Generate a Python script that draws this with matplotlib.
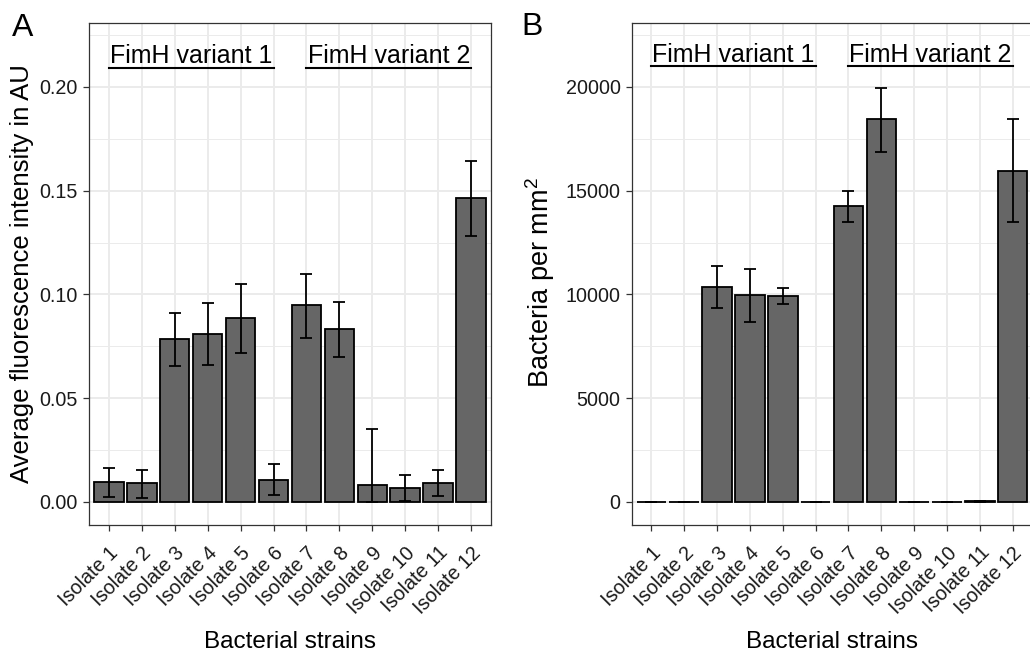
import numpy as np
import matplotlib
matplotlib.use("Agg")
import matplotlib.pyplot as plt

plt.rcParams['font.family'] = ['Liberation Sans', 'DejaVu Sans']
plt.rcParams['mathtext.default'] = 'regular'

isolates = ["Isolate %d" % i for i in range(1, 13)]

# panel A: fluorescence
fluo_mean = [0.0096, 0.0092, 0.0787, 0.0811, 0.0885, 0.0108,
             0.0949, 0.0834, 0.0080, 0.0066, 0.0092, 0.1467]
fluo_hi = [0.0165, 0.0156, 0.0912, 0.0961, 0.1051, 0.0182,
           0.1097, 0.0962, 0.0352, 0.0130, 0.0153, 0.1643]
fluo_lo = [0.0024, 0.0021, 0.0657, 0.0659, 0.0718, 0.0035,
           0.0792, 0.0699, 0.0000, 0.0005, 0.0027, 0.1282]

# panel B: bacteria per mm2
bact_mean = [0, 0, 10375, 9976, 9942, 0,
             14250, 18442, 0, 0, 25, 15966]
bact_hi = [0, 0, 11373, 11213, 10313, 0,
           15002, 19951, 0, 0, 50, 18442]
bact_lo = [0, 0, 9334, 8674, 9542, 0,
           13493, 16867, 0, 0, 0, 13493]

groups = ["FimH variant 1", "FimH variant 2"]
group_span = [(1, 6), (7, 12)]

GRID = "#EBEBEB"
DARK = "#333333"


def draw_panel(ax, mean, lo, hi, ylim, yticks, yticklabels, minor, line_y, text_y,
               ylabel, ylab_x, ylab_y, ylab_size):
    x = np.arange(1, len(mean) + 1)
    mean = np.array(mean, dtype=float)
    lo = np.array(lo, dtype=float)
    hi = np.array(hi, dtype=float)

    ax.set_xlim(0.4, 12.6)
    ax.set_ylim(*ylim)

    for v in minor:
        ax.axhline(v, color=GRID, lw=0.7, zorder=0)
    for v in yticks:
        ax.axhline(v, color=GRID, lw=1.4, zorder=0)
    for v in x:
        ax.axvline(v, color=GRID, lw=1.4, zorder=0)

    ax.bar(x, mean, width=0.9, color="#666666", edgecolor="black", linewidth=1.3, zorder=2)
    ax.errorbar(x, mean, yerr=[mean - lo, hi - mean], fmt="none", ecolor="black",
                elinewidth=1.3, capsize=4, capthick=1.3, zorder=3)

    for (a, b), name in zip(group_span, groups):
        ax.plot([a, b], [line_y, line_y], color="black", lw=1.5, zorder=3)
        ax.text((a + b) / 2, text_y, name, ha="center", va="baseline", fontsize=18, color="black")

    ax.set_xticks(x)
    ax.set_xticklabels(isolates, rotation=45, ha="right", va="top", fontsize=14.2,
                       rotation_mode="anchor", color="#1a1a1a")
    ax.set_yticks(yticks)
    ax.set_yticklabels(yticklabels, fontsize=14.2, color="#1a1a1a")
    ax.tick_params(axis="x", length=4, width=0.9, color=DARK, pad=9)
    ax.tick_params(axis="y", length=4, width=0.9, color=DARK, pad=4)
    for s in ax.spines.values():
        s.set_color(DARK)
        s.set_linewidth(0.9)
    ax.set_xlabel("Bacterial strains", fontsize=17.5, va="baseline")
    ax.xaxis.set_label_coords(0.5, -0.245)
    ax.set_ylabel(ylabel, fontsize=ylab_size)
    ax.yaxis.set_label_coords(ylab_x, ylab_y)


fig = plt.figure(figsize=(10.30, 6.51), dpi=100)

axA = fig.add_axes([0.0864, 0.1935, 0.3903, 0.7712])
draw_panel(axA, fluo_mean, fluo_lo, fluo_hi, (-0.0111, 0.2308),
           [0.0, 0.05, 0.10, 0.15, 0.20], ["0.00", "0.05", "0.10", "0.15", "0.20"],
           [0.025, 0.075, 0.125, 0.175, 0.225], 0.2093, 0.2114,
           "Average fluorescence intensity in AU", -0.137, 0.5, 18.5)

axB = fig.add_axes([0.6133, 0.1935, 0.3890, 0.7712])
draw_panel(axB, bact_mean, bact_lo, bact_hi, (-1110, 23080),
           [0, 5000, 10000, 15000, 20000], ["0", "5000", "10000", "15000", "20000"],
           [2500, 7500, 12500, 17500, 22500], 21000, 21200,
           "Bacteria per mm$^2$", -0.186, 0.483, 19.5)

fig.text(0.0117, 0.9447, "A", fontsize=23, va="baseline")
fig.text(0.506, 0.9462, "B", fontsize=23, va="baseline")

fig.savefig("out.png", dpi=100)
